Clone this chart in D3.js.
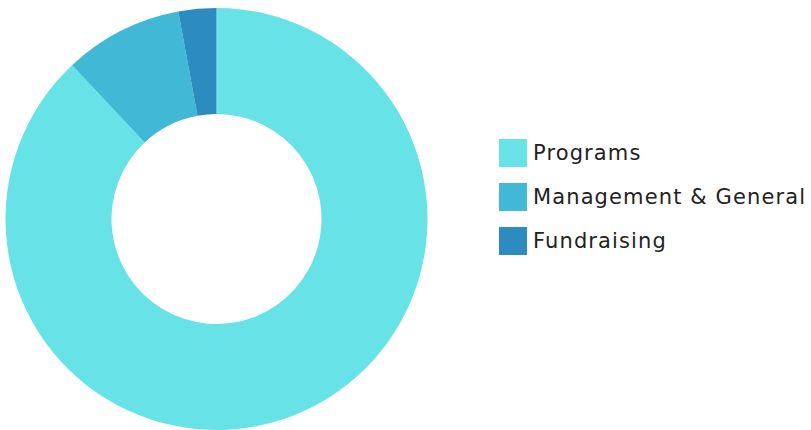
<!DOCTYPE html>
<html><head><meta charset="utf-8">
<script src="https://cdn.jsdelivr.net/npm/d3@7"></script>
<style>html,body{margin:0;padding:0;background:#fff;}svg{display:block;}</style>
</head><body>
<svg id="chart" width="811" height="430"></svg>
<script>
const categories = ["Programs", "Management & General", "Fundraising"];
const values = [88, 9.1, 2.9];
const colors = ["#67E3E8", "#41B8D6", "#2C8BBF"];

const svg = d3.select("#chart");
const cx = 216.5, cy = 219, outerR = 211, innerR = 105;

const pie = d3.pie().sort(null).value(d => d.v);
const arc = d3.arc().innerRadius(innerR).outerRadius(outerR);
const data = categories.map((c, i) => ({c, v: values[i], col: colors[i]}));

svg.append("g").attr("transform", `translate(${cx},${cy})`)
  .selectAll("path").data(pie(data)).join("path")
  .attr("d", arc).attr("fill", d => d.data.col);

const legend = svg.append("g").attr("transform", "translate(499,139)");
const rows = legend.selectAll("g").data(data).join("g")
  .attr("transform", (d, i) => `translate(0,${i * 44})`);
rows.append("rect").attr("width", 28).attr("height", 28).attr("fill", d => d.col);
const texts = rows.append("text").attr("x", 34).attr("y", 21)
  .attr("font-family", "'DejaVu Sans', sans-serif")
  .attr("font-size", 21).attr("fill", "#222")
  .text(d => d.c);

// widen to match reference text width
const target = 272;
const longest = texts.nodes()[1];
const w = longest.getComputedTextLength();
const n = categories[1].length;
const ls = (target - w) / (n - 1);
texts.attr("letter-spacing", ls + "px");
</script>
</body></html>
